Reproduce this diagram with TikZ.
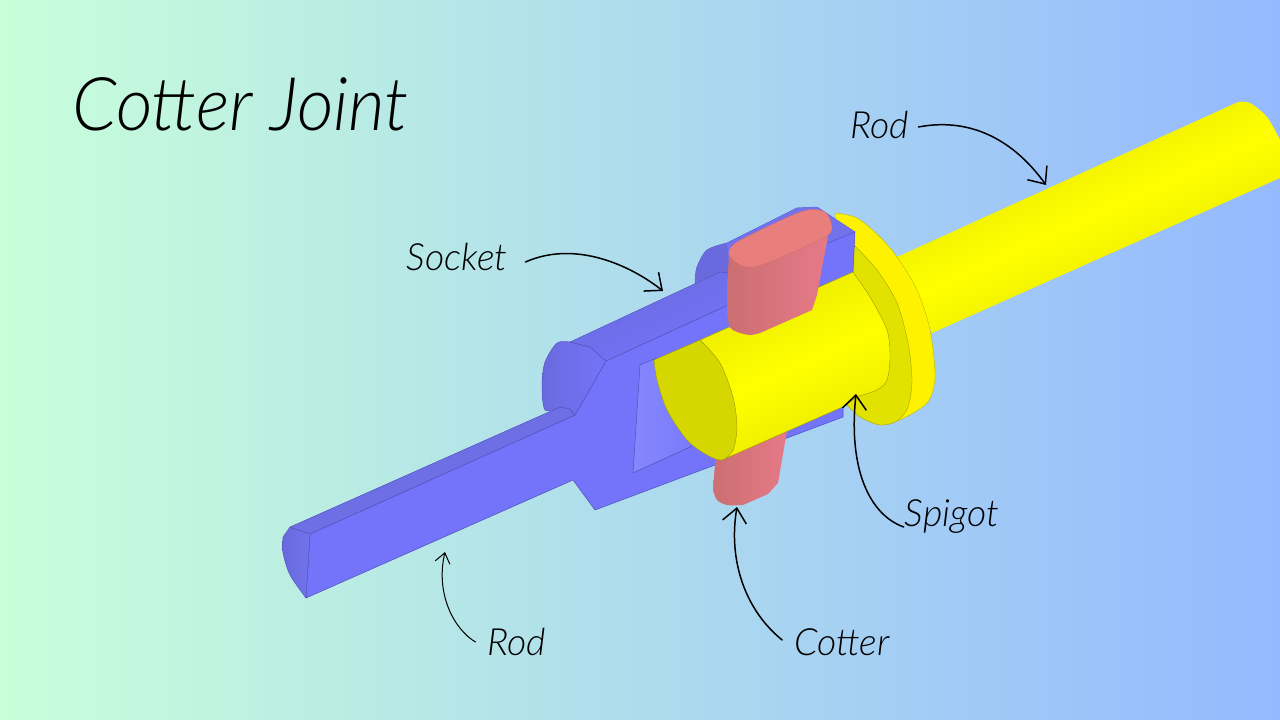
\documentclass[tikz,border=0pt]{standalone}
\usepackage{fontspec}
\setmainfont{Lato}[UprightFont=* Light,ItalicFont=* Light Italic]
\usetikzlibrary{arrows.meta}
\definecolor{bgl}{HTML}{C8FFDA}
\definecolor{bgm}{HTML}{AFDDE7}
\definecolor{bgr}{HTML}{94B9FF}
\definecolor{blueflat}{HTML}{7474FA}
\definecolor{bluetop}{HTML}{7272EC}
\definecolor{bluedark}{HTML}{6A6ADE}
\definecolor{blueline}{HTML}{5050B8}
\definecolor{bluelight}{HTML}{8A8CFF}
\definecolor{ydark}{HTML}{D6D600}
\definecolor{yring}{HTML}{E2E200}
\definecolor{yedge}{HTML}{DCDC00}
\definecolor{ysoft}{HTML}{E8E800}
\definecolor{pinktop}{HTML}{E87F7C}
\definecolor{pinkside}{HTML}{E67A88}
\definecolor{pinkdark}{HTML}{CC6E72}
\tikzset{
  blueface/.style={fill=blueflat,draw=blueline,line width=0.5pt,line join=round},
  ctext/.style={inner sep=0pt,text=black},
  labeltext/.style={ctext,font=\itshape\fontsize{37.5pt}{38pt}\selectfont,anchor=center},
  leader/.style={draw=black,line width=1.5pt,line cap=round,-{Straight Barb[length=14pt,width=24pt,line width=1.5pt]}},
  thinleader/.style={draw=black,line width=1pt,line cap=round,-{Straight Barb[length=10pt,width=15pt,line width=1pt]}},
  cyl/.style={top color=yedge,bottom color=yedge,middle color=yellow,shading angle=24.5},
}
\begin{document}
\begin{tikzpicture}[x=1pt,y=-1pt]
\useasboundingbox (0,0) rectangle (1280,720);
\shade[left color=bgl,middle color=bgm,right color=bgr] (0,0) rectangle (1280,720);

% yellow rod
\path[cyl,draw=none] (897,257) -- plot[smooth] coordinates {(1238,102) (1250,103) (1267,117) (1280,140)} -- (1280,178) -- (932,333) -- cycle;

% flange
\path[fill=yellow,draw=yedge!85!black,line width=0.4pt] plot[smooth] coordinates {(835,213) (857,218) (880,237) (897,257) (917,290) (930,330) (935,377) (927,403) (900,420)} -- (880,425) -- (848,405) -- cycle;
% dark ring
\path[fill=yring,draw=yedge!75!black,line width=0.4pt] plot[smooth] coordinates {(852,243) (877,270) (897,303) (908,343) (912,380) (908,407) (897,421) (880,425) (860,417) (847,405)} -- (850,300) -- cycle;

% back part of the socket
\path[blueface] plot[smooth] coordinates {(695,282) (697,267) (707,250) (727,243)} -- (797,208) -- (817,207) -- (855,232) -- (853,272) -- (800,300) -- (700,300) -- cycle;
\path[fill=bluetop,draw=none] (727,243) -- (797,208) -- (817,207) -- (855,232) -- (828,243) -- (760,260) -- cycle;
\path[fill=bluedark,draw=none] plot[smooth] coordinates {(695,282) (697,267) (707,250) (727,243)} -- (730,272) -- cycle;
\draw[blueline,line width=0.4pt] (828,243) -- (855,232);

% left rod and socket body, flat face
\path[blueface] (310,534) -- (575,415) -- (606,361) -- (728,305) -- (760,330) -- (843,407) -- (843,417) -- (595,510) -- (573,480) -- (306,598) -- cycle;
% rod end
\path[shade,left color=bluedark,right color=bluetop,draw=blueline,line width=0.4pt] (290,527) -- plot[smooth] coordinates {(283,537) (283,553) (290,575) (306,598)} -- (310,534) -- cycle;
% rod top facet
\path[shade,top color=bluedark,bottom color=bluetop,shading angle=24.5,draw=blueline,line width=0.4pt] (290,527) -- (560,407) -- (570,409) -- (575,415) -- (310,534) -- cycle;
% socket cap
\path[shade,left color=bluedark,right color=blueflat,draw=blueline,line width=0.4pt] plot[smooth] coordinates {(560,407) (545,410) (542,385) (545,362) (557,343) (570,342)} -- (590,347) -- (606,361) -- (575,415) -- (570,409) -- cycle;
% socket upper arm
\path[shade,top color=bluedark,bottom color=blueflat,shading angle=24.5,draw=blueline,line width=0.4pt] (570,342) -- (720,272) -- (728,273) -- (728,305) -- (606,361) -- (590,347) -- cycle;
% recess
\path[shade,left color=bluelight!80!blueflat,middle color=bluelight,right color=blueflat,draw=blueline,line width=0.5pt] (640,365) -- (657,358) -- (720,420) -- (690,447) -- (633,473) -- cycle;

% lower cotter
\path[shade,left color=pinkdark,right color=pinkside,draw=none] (716,450) -- plot[smooth] coordinates {(713,490) (717,500) (727,505) (743,505)} -- (768,494) -- (778,483) -- (788,425) -- cycle;

% spigot cylinder
\path[shade,top color=ysoft,bottom color=ysoft,middle color=yellow,shading angle=24.5,draw=yedge!70!black,line width=0.4pt] (700,340) -- plot[smooth] coordinates {(853,272) (870,297) (887,330) (890,357) (887,380) (877,390) (857,397) (847,405)} -- (722,460) -- (733,450) -- cycle;
% spigot end face
\path[fill=ydark,draw=yedge!70!black,line width=0.4pt] (654,360) -- plot[smooth] coordinates {(700,340) (720,363) (733,397) (737,427) (733,450) (722,460) (707,455) (687,440) (667,410) (657,380) (654,360)} -- cycle;

% upper cotter
\path[shade,left color=pinkdark,right color=pinkside,draw=none] plot[smooth] coordinates {(729,255) (727,297) (729,325) (737,332) (750,335) (760,333)} -- (812,310) -- (817,295) -- (830,225) -- (790,220) -- cycle;
\path[fill=pinktop,draw=pinkdark,line width=0.4pt] plot[smooth cycle,tension=0.45] coordinates {(729,255) (737,242) (800,212) (823,211) (831,222) (827,236) (770,262) (753,267) (740,265)};

% labels
\node[ctext,font=\itshape\fontsize{74pt}{74pt}\selectfont,anchor=west,xscale=0.96] (title) at (72,104) {Cotter Joint};
\node[labeltext] (rodA) at (880,125) {Rod};
\node[labeltext] (socket) at (457,257) {Socket};
\node[labeltext] (spigot) at (952,517) {Spigot};
\node[labeltext] (cotter) at (842,642) {Cotter};
\node[labeltext] (rodB) at (517,642) {Rod};

% connector ends
\coordinate (tipRodA) at (1046,185);
\coordinate (tipSocket) at (663,291);
\coordinate (tipSpigot) at (856,394);
\coordinate (tipCotter) at (737,507);
\coordinate (tipRodB) at (445,552);

\draw[leader] ([xshift=9pt,yshift=-2pt]rodA.east) .. controls (965,118) and (1010,135) .. (tipRodA);
\draw[leader] ([xshift=18pt,yshift=-5pt]socket.east) .. controls (575,240) and (630,265) .. (tipSocket);
\draw[leader] ([xshift=-1pt,yshift=-10pt]spigot.west) .. controls (870,515) and (848,470) .. (tipSpigot);
\draw[leader] ([xshift=-12pt,yshift=2pt]cotter.west) .. controls (745,610) and (728,560) .. (tipCotter);
\draw[thinleader] ([xshift=-12pt]rodB.west) .. controls (455,630) and (435,595) .. (tipRodB);
\end{tikzpicture}
\end{document}
